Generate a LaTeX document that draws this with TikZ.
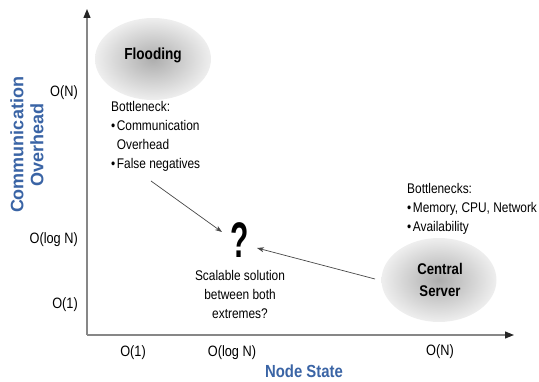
\documentclass[tikz,border=0pt]{standalone}
\usepackage{fontspec}
\setmainfont{Liberation Sans}[FakeStretch=0.85]
\newfontfamily\plainsf{Liberation Sans}
\usetikzlibrary{arrows.meta,shapes.geometric}
\definecolor{axblue}{RGB}{58,100,165}
\definecolor{axgray}{RGB}{135,135,135}
\newcommand{\bul}{\textbullet\hspace{1.5pt}}
\begin{document}
\begin{tikzpicture}[x=1pt,y=-1pt,
  blob/.style={ellipse,inner color=gray!64,outer color=gray!13,draw=none},
  lbl/.style={font=\fontsize{15}{18}\selectfont,inner sep=0pt},
  note/.style={font=\fontsize{14}{19}\selectfont,align=left,inner sep=0pt,anchor=north west},
  title/.style={font=\fontsize{17.5}{20}\selectfont\bfseries,text=axblue,inner sep=0pt},
  bold/.style={font=\fontsize{16}{22}\selectfont\bfseries,align=center,inner sep=0pt},
  arr/.style={draw=black!72,line width=0.7pt,-{Stealth[length=7pt,width=5pt]}},
  axis/.style={draw=axgray,line width=1.2pt,-{Triangle[length=9pt,width=7pt,color=black!85]}}]
\useasboundingbox (0,0) rectangle (539,382);
% axes
\coordinate (org) at (87,335);
\coordinate (ytop) at (87,9);
\coordinate (xend) at (514,335);
\draw[axis] (org) -- (ytop);
\draw[axis] (org) -- (xend);
% blobs
\node[blob, minimum width=116pt, minimum height=82pt] (flood) at (153,59) {};
\node[bold] (floodt) at (153,55) {Flooding};
\node[blob, minimum width=115pt, minimum height=84pt] (server) at (439,280) {};
\node[bold,font=\fontsize{15.5}{22}\selectfont\bfseries] (servert) at (440,280) {Central\\Server};
% notes
\node[note] (bn1) at (111,101) {Bottleneck:\\\bul Communication\\\phantom{\bul}Overhead\\\bul False negatives};
\node[note] (bn2) at (407,183) {Bottlenecks:\\\bul Memory, CPU, Network\\\bul Availability};
% question
\node[inner sep=0pt] (q) at (240,240) {\scalebox{0.6}[1]{\fontsize{50}{50}\selectfont\plainsf\bfseries ?}};
\node[align=center,inner sep=0pt,font=\fontsize{14}{19}\selectfont] (sc) at (240,294) {Scalable solution\\between both\\extremes?};
% arrows
\coordinate (a1s) at (151,181);
\coordinate (a1e) at (222,232);
\coordinate (a2s) at (375,279);
\coordinate (a2e) at (257,248);
\draw[arr] (a1s) -- (a1e);
\draw[arr] (a2s) -- (a2e);
% ticks
\node[lbl,anchor=east] (yN) at (78,93) {O(N)};
\node[lbl,anchor=east] (yL) at (78,240) {O(log N)};
\node[lbl,anchor=east] (y1) at (78,305) {O(1)};
\node[lbl] (x1) at (133,353) {O(1)};
\node[lbl] (xL) at (232,353) {O(log N)};
\node[lbl] (xN) at (440,352) {O(N)};
% titles
\node[title] (xt) at (304,371) {Node State};
\node[title,rotate=90,align=center,font=\fontsize{18}{20}\selectfont\plainsf\bfseries] (yt) at (27,145) {Communication\\Overhead};
\end{tikzpicture}
\end{document}
